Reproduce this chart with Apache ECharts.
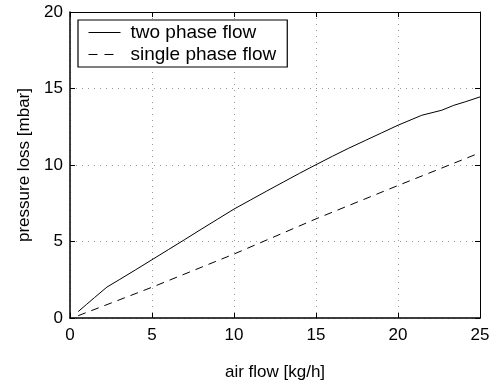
<!DOCTYPE html>
<html>
<head>
<meta charset="utf-8">
<script src="https://cdn.jsdelivr.net/npm/echarts@6/dist/echarts.min.js"></script>
<style>
html,body{margin:0;padding:0;background:#fff;}
#chart{width:499px;height:386px;}
</style>
</head>
<body>
<div id="chart"></div>
<script>
// Data
var twoPhaseX = [0.5, 1.0, 1.5, 2.25, 3, 4, 5, 6, 7, 8, 9, 10, 11, 12, 13, 14, 15, 16, 17, 18, 19, 20, 21.45, 22.67, 23.4, 24.1, 25];
var twoPhaseY = [0.42, 0.88, 1.34, 2.02, 2.5, 3.15, 3.81, 4.47, 5.13, 5.8, 6.46, 7.12, 7.71, 8.3, 8.88, 9.46, 10.02, 10.57, 11.1, 11.6, 12.1, 12.6, 13.25, 13.58, 13.9, 14.13, 14.45];
var singlePhaseX = [0.5, 5, 10, 15, 20, 25];
var singlePhaseY = [0.15, 2.01, 4.18, 6.48, 8.66, 10.8];
var xTicks = [0, 5, 10, 15, 20, 25];
var yTicks = [0, 5, 10, 15, 20];
var seriesNames = ['two phase flow', 'single phase flow'];
var xTitle = 'air flow [kg/h]';
var yTitle = 'pressure loss [mbar]';

function pairs(xs, ys) { return xs.map(function (x, i) { return [x, ys[i]]; }); }

var font = 'Liberation Sans, Arial, Helvetica, sans-serif';
var chart = echarts.init(document.getElementById('chart'), null, {renderer: 'canvas'});
var xMin = xTicks[0], xMax = xTicks[xTicks.length - 1];
var yMin = yTicks[0], yMax = yTicks[yTicks.length - 1];
var xStep = xTicks[1] - xTicks[0], yStep = yTicks[1] - yTicks[0];
var tick = {show: true, inside: true, length: 5, lineStyle: {color: '#000', width: 1}};

chart.setOption({
  animation: false,
  backgroundColor: '#fff',
  textStyle: {fontFamily: font},
  grid: {left: 70, right: 19, top: 12, bottom: 67, show: false},
  legend: {
    show: true,
    orient: 'vertical', left: 78, top: 20,
    padding: [3, 11, 3, 10], itemGap: 3,
    itemWidth: 32, itemHeight: 12,
    borderColor: '#000', borderWidth: 1.2, backgroundColor: '#fff',
    itemStyle: {opacity: 0},
    lineStyle: {width: 1},
    textStyle: {fontFamily: font, fontSize: 19, color: '#000', padding: [0, 0, 0, 5]},
    data: [
      {name: seriesNames[0], lineStyle: {width: 1, type: 'solid'}},
      {name: seriesNames[1], lineStyle: {width: 1, type: [9, 7]}}
    ]
  },
  xAxis: [{
    type: 'value', min: xMin, max: xMax, interval: xStep,
    name: xTitle, nameLocation: 'middle', nameGap: 46,
    nameTextStyle: {fontFamily: font, fontSize: 17, color: '#000'},
    axisLine: {show: true, onZero: false, lineStyle: {color: '#000', width: 1.5}},
    axisTick: tick,
    axisLabel: {fontFamily: font, fontSize: 17, color: '#000', margin: 9},
    splitLine: {show: true, lineStyle: {color: '#999', type: [1, 5], width: 1}}
  }, {
    type: 'value', min: xMin, max: xMax, interval: xStep, position: 'top',
    axisLine: {show: true, onZero: false, lineStyle: {color: '#000', width: 1}}, axisTick: tick,
    axisLabel: {show: false}, splitLine: {show: false}
  }],
  yAxis: [{
    type: 'value', min: yMin, max: yMax, interval: yStep,
    name: yTitle, nameLocation: 'middle', nameGap: 36, nameRotate: 90,
    nameTextStyle: {fontFamily: font, fontSize: 17, color: '#000'},
    axisLine: {show: true, onZero: false, lineStyle: {color: '#000', width: 1.5}},
    axisTick: tick,
    axisLabel: {fontFamily: font, fontSize: 17, color: '#000', margin: 7},
    splitLine: {show: true, lineStyle: {color: '#999', type: [1, 5], width: 1}}
  }, {
    type: 'value', min: yMin, max: yMax, interval: yStep, position: 'right',
    axisLine: {show: true, onZero: false, lineStyle: {color: '#000', width: 1}}, axisTick: tick,
    axisLabel: {show: false}, splitLine: {show: false}
  }],
  series: [{
    name: seriesNames[0], type: 'line', xAxisIndex: 0, yAxisIndex: 0,
    data: pairs(twoPhaseX, twoPhaseY), showSymbol: false, symbol: 'none',
    lineStyle: {color: '#000', width: 1, type: 'solid'}, itemStyle: {color: '#000'}
  }, {
    name: seriesNames[1], type: 'line', xAxisIndex: 0, yAxisIndex: 0,
    data: pairs(singlePhaseX, singlePhaseY), showSymbol: false, symbol: 'none',
    lineStyle: {color: '#000', width: 1, type: [8, 6]}, itemStyle: {color: '#000'}
  }]
});
</script>
</body>
</html>
